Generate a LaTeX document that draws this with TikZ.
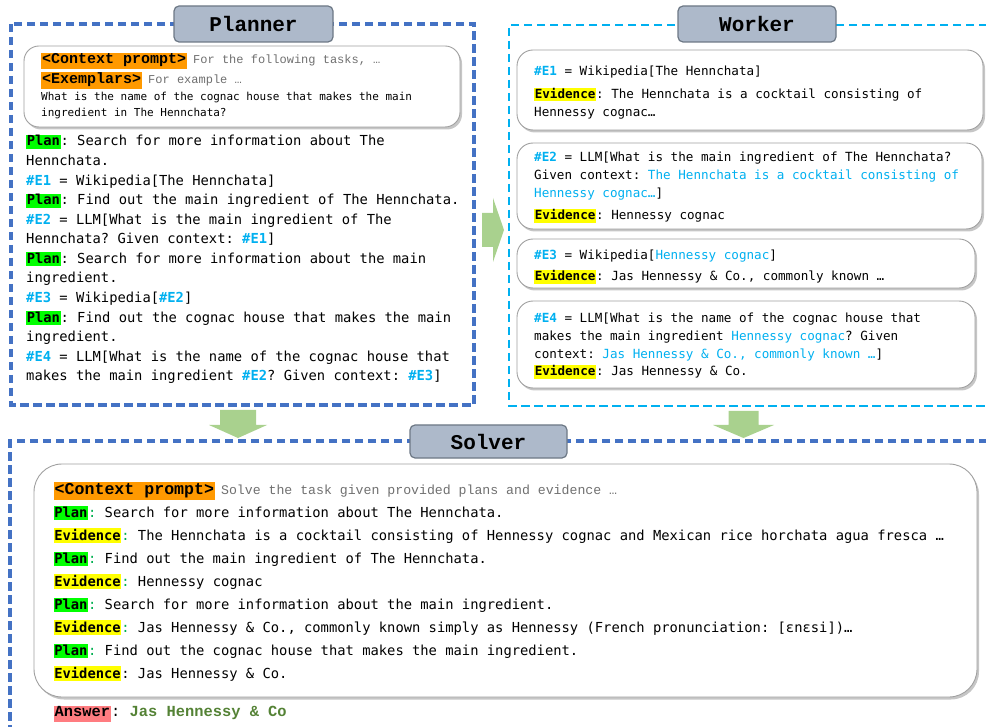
\documentclass[tikz,border=0pt]{standalone}
\usepackage{fontspec}
\usepackage{xcolor}
\setmainfont{DejaVu Sans Mono}
\newfontfamily\couriermono{Liberation Mono}
\usetikzlibrary{shadows}

\definecolor{planblue}{HTML}{4472C4}
\definecolor{workcyan}{HTML}{00B0F0}
\definecolor{titlefill}{HTML}{ADB9CA}
\definecolor{titleedge}{HTML}{6D7885}
\definecolor{flowgreen}{HTML}{A9D18E}
\definecolor{hlgreen}{HTML}{00FF00}
\definecolor{hlyellow}{HTML}{FFFF00}
\definecolor{hlorange}{HTML}{FF9900}
\definecolor{hlred}{HTML}{FF7C80}
\definecolor{refcyan}{HTML}{00B0F0}
\definecolor{answergreen}{HTML}{548235}
\definecolor{colongreen}{HTML}{00B050}
\definecolor{promptgray}{HTML}{707070}
\definecolor{boxedge}{HTML}{A0A0A0}

\newcommand{\hlbox}[2]{{\setlength{\fboxsep}{0.6pt}\colorbox{#1}{\rule[-0.17em]{0pt}{0.9em}\textbf{#2}}}}
\newcommand{\plan}{\hlbox{hlgreen}{Plan}}
\newcommand{\evid}{\hlbox{hlyellow}{Evidence}}
\newcommand{\gc}{\textcolor{colongreen}{:}}
\newcommand{\eref}[1]{\textcolor{refcyan}{\textbf{#1}}}
\newcommand{\cyantext}[1]{\textcolor{refcyan}{#1}}
\newcommand{\ctag}[2][15]{{\fontsize{#1}{#1}\selectfont\setlength{\fboxsep}{1pt}\colorbox{hlorange}{\rule[-0.3em]{0pt}{0.9em}\couriermono\bfseries #2}}}
\newcommand{\ptext}[2][12]{{\fontsize{#1}{#1}\selectfont\couriermono\color{promptgray}#2}}

\begin{document}
\frenchspacing
\begin{tikzpicture}[x=1pt,y=-1pt,
	paneltitle/.style={draw=titleedge, fill=titlefill, line width=1.2pt, rounded corners=5pt, inner sep=0pt, font=\couriermono\bfseries\fontsize{21}{21}\selectfont},
	bubble/.style={draw=boxedge, fill=white, line width=0.9pt, rounded corners=16pt, inner sep=0pt, drop shadow={shadow xshift=2pt, shadow yshift=-2.5pt, fill=black!50, opacity=.45}},
	txt/.style={anchor=base west, align=left, inner sep=0pt},
	plandash/.style={draw=planblue, line width=3.2pt, dash pattern=on 8.5pt off 4.5pt},
	workdash/.style={draw=workcyan, line width=2.8pt, dash pattern=on 8.5pt off 4.5pt},
	flowarrow/.style={fill=flowgreen}]
	\clip (0,0) rectangle (986,727);

	\draw[plandash] (11,24) rectangle (474,405);
	\draw[workdash] (1000,25) -| (509,406) -- (1000,406);
	\draw[plandash] (1000,441) -| (10,740);

	\node[paneltitle, minimum width=159, minimum height=36] (plantitle) at (253.5,24) {Planner};
	\node[paneltitle, minimum width=158, minimum height=36] (worktitle) at (757,24) {Worker};
	\node[paneltitle, minimum width=157, minimum height=33] (solvetitle) at (488.5,441.5) {Solver};

	% multi-line texts sit on the baseline of their last line
	\node[bubble, rounded corners=15pt, minimum width=436, minimum height=81] (prompt) at (242,86.5) {};
	\node[txt] (ctxline) at (41,64) {\ctag{<Context prompt>} \ptext{For the following tasks, …}};
	\node[txt] (exline) at (41,84) {\ctag{<Exemplars>} \ptext{For example …}};
	\node[txt, font=\fontsize{11}{16}\selectfont] (question) at (41,116.7) {What is the name of the cognac house that makes the main\\ingredient in The Hennchata?};

	\node[txt, font=\fontsize{13.8}{19.56}\selectfont] (plansteps) at (26,380.7) {%
		\plan: Search for more information about The\\
		Hennchata.\\
		\eref{\#E1} = Wikipedia[The Hennchata]\\
		\plan: Find out the main ingredient of The Hennchata.\\
		\eref{\#E2} = LLM[What is the main ingredient of The\\
		Hennchata? Given context: \eref{\#E1}]\\
		\plan: Search for more information about the main\\
		ingredient.\\
		\eref{\#E3} = Wikipedia[\eref{\#E2}]\\
		\plan: Find out the cognac house that makes the main\\
		ingredient.\\
		\eref{\#E4} = LLM[What is the name of the cognac house that\\
		makes the main ingredient \eref{\#E2}? Given context: \eref{\#E3}]};

	\node[bubble, minimum width=466, minimum height=80] (wk1) at (750,90) {};
	\node[bubble, minimum width=465, minimum height=86] (wk2) at (749.5,186) {};
	\node[bubble, minimum width=458, minimum height=49] (wk3) at (746,263.5) {};
	\node[bubble, minimum width=458, minimum height=87] (wk4) at (746,344.5) {};

	\node[txt, font=\fontsize{12.6}{18}\selectfont] (wk1text) at (534,116.5) {%
		\eref{\#E1} = Wikipedia[The Hennchata]\\[4.7pt]
		\evid: The Hennchata is a cocktail consisting of\\
		Hennessy cognac…};
	\node[txt, font=\fontsize{12.6}{18.2}\selectfont] (wk2text) at (534,220) {%
		\eref{\#E2} = LLM[What is the main ingredient of The Hennchata?\\
		Given context: \cyantext{The Hennchata is a cocktail consisting of}\\
		\cyantext{Hennessy cognac…}]\\[4pt]
		\evid: Hennessy cognac};
	\node[txt, font=\fontsize{12.6}{18}\selectfont] (wk3text) at (534,281) {%
		\eref{\#E3} = Wikipedia[\cyantext{Hennessy cognac}]\\[3.7pt]
		\evid: Jas Hennessy \& Co., commonly known …};
	\node[txt, font=\fontsize{12.6}{17.8}\selectfont] (wk4text) at (534,376) {%
		\eref{\#E4} = LLM[What is the name of the cognac house that\\
		makes the main ingredient \cyantext{Hennessy cognac}? Given\\
		context: \cyantext{Jas Hennessy \& Co., commonly known …}]\\
		\evid: Jas Hennessy \& Co.};

	\node[bubble, rounded corners=28pt, minimum width=943, minimum height=233] (solvebox) at (505.5,580.5) {};
	\node[txt] (solvectx) at (53.5,494.3) {\ctag[16.6]{<Context prompt>} \ptext[13.2]{Solve the task given provided plans and evidence …}};
	\node[txt, font=\fontsize{13.8}{23}\selectfont] (solvesteps) at (53.5,678.3) {%
		\plan\gc{} Search for more information about The Hennchata.\\
		\evid\gc{} The Hennchata is a cocktail consisting of Hennessy cognac and Mexican rice horchata agua fresca …\\
		\plan\gc{} Find out the main ingredient of The Hennchata.\\
		\evid\gc{} Hennessy cognac\\
		\plan\gc{} Search for more information about the main ingredient.\\
		\evid\gc{} Jas Hennessy \& Co., commonly known simply as Hennessy (French pronunciation: [ɛnɛsi])…\\
		\plan\gc{} Find out the cognac house that makes the main ingredient.\\
		\evid: Jas Hennessy \& Co.};
	\node[txt, font=\couriermono\fontsize{15.4}{20}\selectfont] (answer) at (53.5,716.7) {{\setlength{\fboxsep}{1pt}\colorbox{hlred}{\rule[-0.3em]{0pt}{0.85em}\bfseries Answer}}: \textcolor{answergreen}{\bfseries Jas Hennessy \& Co}};

	\fill[flowarrow] (482,213) -- (493,213) -- (493,198) -- (504,230) -- (493,262) -- (493,247) -- (482,247) -- cycle;
	\fill[flowarrow] (220,410) -- (256,410) -- (256,425) -- (267,425) -- (238,438) -- (209,425) -- (220,425) -- cycle;
	\fill[flowarrow] (728.5,411) -- (758.5,411) -- (758.5,425) -- (774,425) -- (743.5,438) -- (713,425) -- (728.5,425) -- cycle;
\end{tikzpicture}
\end{document}
